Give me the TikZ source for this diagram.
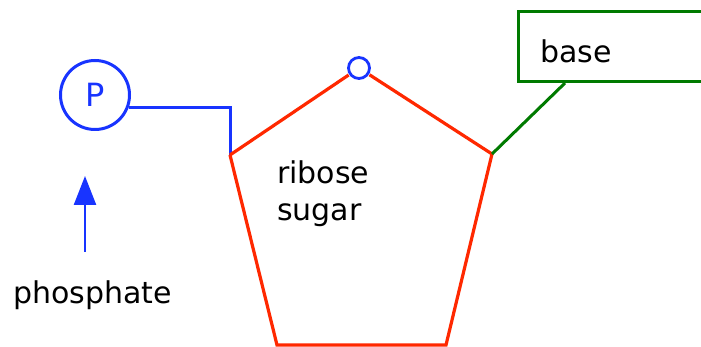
\documentclass[tikz,border=0pt]{standalone}
\usepackage{fontspec}
\setmainfont{DejaVu Sans}
\usetikzlibrary{arrows.meta}
\definecolor{pblue}{RGB}{24,52,255}
\definecolor{sred}{RGB}{255,40,0}
\definecolor{bgreen}{RGB}{0,122,0}
\tikzset{
  lbl/.style={font=\fontsize{30}{36}\selectfont, inner sep=0pt, anchor=base west, text=black},
  bline/.style={draw=pblue, line width=3pt},
  rline/.style={draw=sred, line width=3.2pt, line join=miter},
  gline/.style={draw=bgreen, line width=3pt},
}
\begin{document}
\begin{tikzpicture}[x=1pt, y=-1pt]
\useasboundingbox (0,0) rectangle (701,347);
% phosphate group
\node (P) [circle, bline, minimum size=69pt, inner sep=0pt, text=pblue,
  font=\fontsize{32}{38}\selectfont] at (95,95) {P};
% sugar ring vertices
\coordinate (c1) at (230,155);
\node (O) [circle, draw=pblue, line width=2.8pt, minimum size=21pt, inner sep=0pt, outer sep=2pt] at (359,68) {};
\coordinate (c3) at (492,154);
\coordinate (c4) at (446,345);
\coordinate (c5) at (277,345);
% base box
\node (B) [rectangle, gline, anchor=north west, minimum width=200pt, minimum height=70pt, inner sep=0pt] at (517,10) {};
% labels
\node (tb) [lbl] at (540,63) {base};
\node (tr) [lbl] at (277,184) {ribose};
\node (ts) [lbl] at (277,221) {sugar};
\node (tp) [lbl] at (13,303) {phosphate};
% connectors
\draw[bline] (P.-21) -| (c1);
\draw[rline] (c1) -- (O);
\draw[rline] (O) -- (c3) -- (c4) -- (c5) -- (c1);
\draw[gline] ([xshift=48pt]B.south west) -- (c3);
% arrow
\coordinate (a0) at (85,252);
\coordinate (a1) at (85,176);
\draw[draw=pblue, line width=2.5pt, -{Triangle[width=22pt,length=29pt]}, fill=pblue] (a0) -- (a1);
\end{tikzpicture}
\end{document}
